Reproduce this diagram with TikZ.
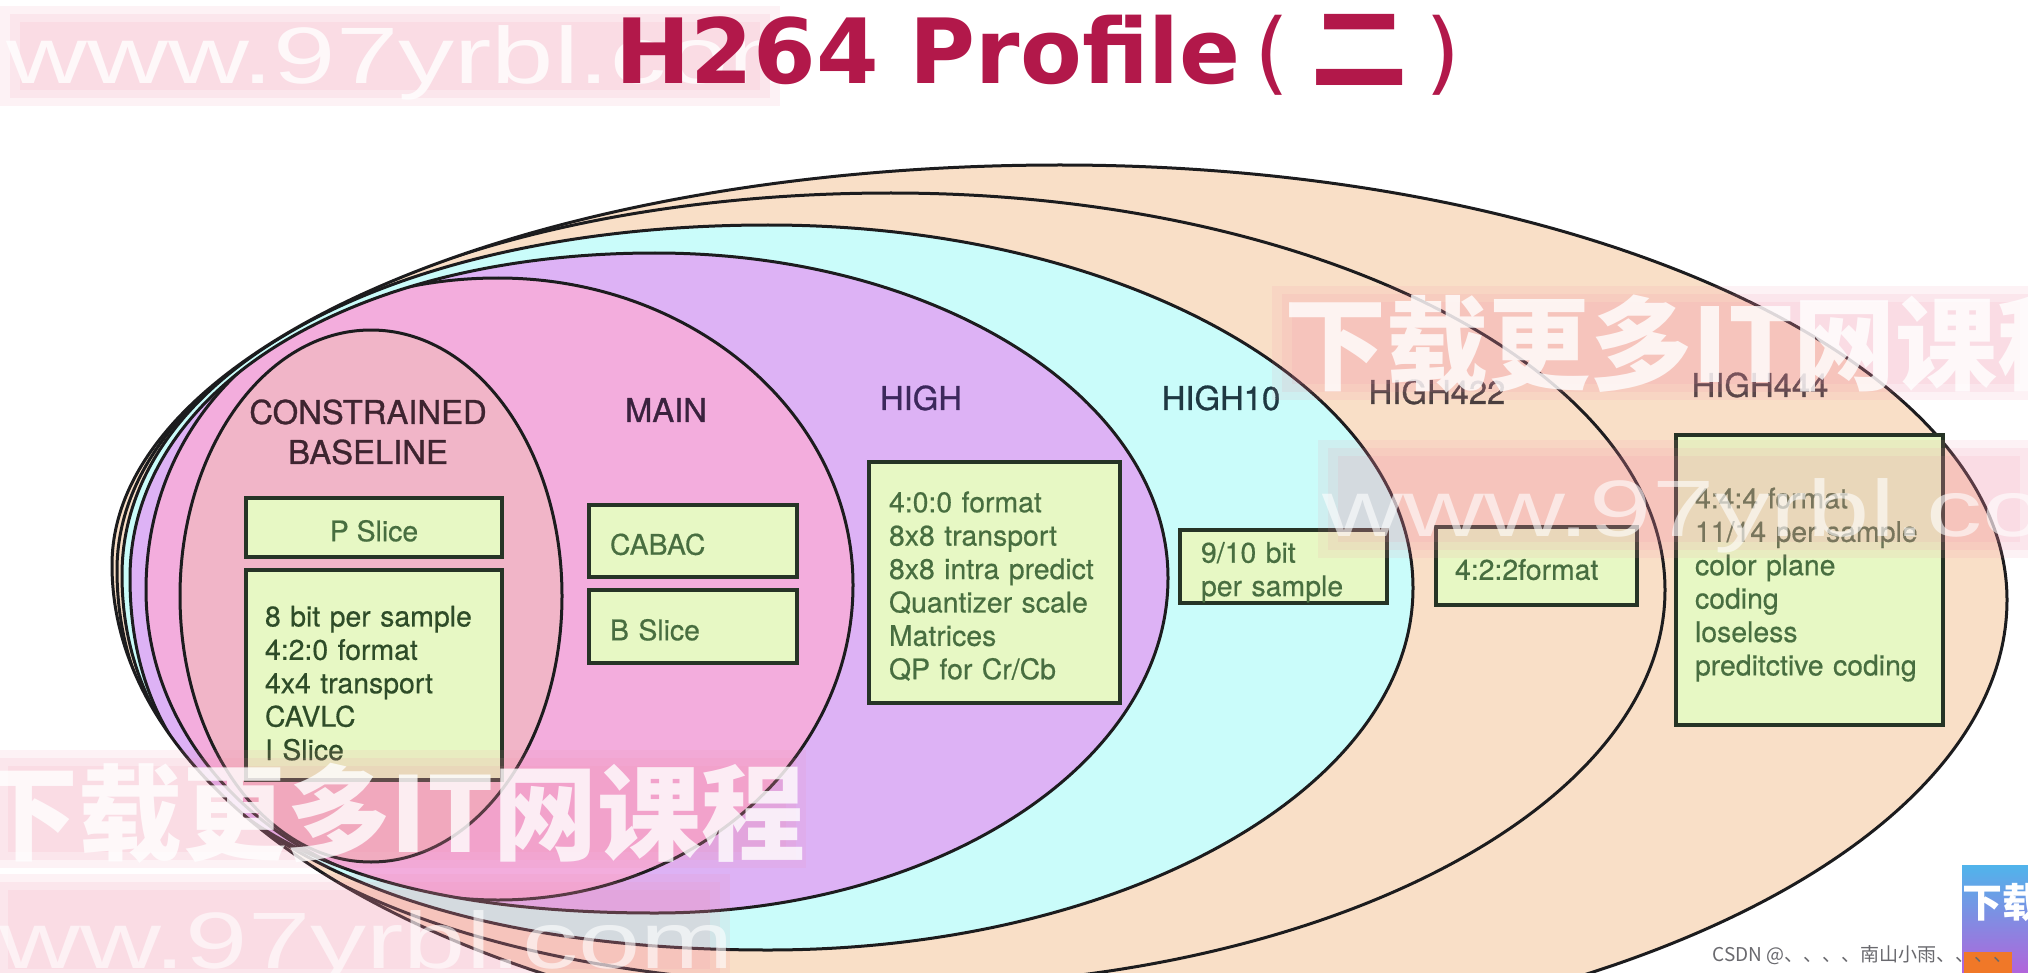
\documentclass[tikz,border=0pt]{standalone}
\usepackage{fontspec}
\setmainfont{TeX Gyre Heros}
\newfontfamily\labfont{TeX Gyre Heros}[FakeBold=0.9]
\newfontfamily\boxfont{TeX Gyre Heros}[FakeBold=0.5]
\newfontfamily\titlefont{DejaVu Sans}
\newfontfamily\cjk{Noto Sans CJK SC}
\newfontfamily\wmfont{Liberation Sans}
\definecolor{peachc}{RGB}{249,223,199}
\definecolor{cyanc}{RGB}{202,252,250}
\definecolor{lavc}{RGB}{221,178,245}
\definecolor{pinkc}{RGB}{243,173,221}
\definecolor{salmonc}{RGB}{241,181,200}
\definecolor{boxfillc}{RGB}{231,248,196}
\definecolor{boxdrawc}{RGB}{38,52,38}
\definecolor{boxtextc}{RGB}{72,110,64}
\definecolor{boxtextd}{RGB}{46,76,40}
\definecolor{linec}{RGB}{28,28,30}
\definecolor{titlec}{RGB}{178,24,74}
\definecolor{wmpink}{RGB}{242,140,165}
\definecolor{labA}{RGB}{62,36,48}
\definecolor{labB}{RGB}{58,34,62}
\definecolor{labC}{RGB}{60,40,92}
\definecolor{labD}{RGB}{30,56,66}
\definecolor{labE}{RGB}{72,62,62}
\definecolor{csdnc}{RGB}{105,105,110}
\definecolor{thumbA}{RGB}{80,180,235}
\definecolor{thumbB}{RGB}{178,100,218}
\definecolor{thumbC}{RGB}{240,120,40}
% closed oval: left point, top, right point, bottom; separate fullness of the two left quarters
% #1 L  #2 y of L  #3 x of top/bottom  #4 T  #5 R  #6 y of R  #7 B  #8 upper-left kappa  #9 lower-left kappa
\newcommand\ovalpath[9]{(#1,#2) .. controls (#1,{#2-#8*(#2-#4)}) and ({#3-#8*(#3-#1)},#4) .. (#3,#4)
  .. controls ({#3+0.5523*(#5-#3)},#4) and (#5,{#6-0.5523*(#6-#4)}) .. (#5,#6)
  .. controls (#5,{#6+0.5523*(#7-#6)}) and ({#3+0.5523*(#5-#3)},#7) .. (#3,#7)
  .. controls ({#3-#9*(#3-#1)},#7) and (#1,{#2+#9*(#7-#2)}) .. (#1,#2) -- cycle}
\newcommand\shA{\ovalpath{112}{565}{1060}{165}{2007}{600}{1050}{0.5523}{0.56}}
\newcommand\shB{\ovalpath{117}{570}{891}{193}{1665}{590}{987}{0.56}{0.62}}
\newcommand\shC{\ovalpath{122}{575}{768}{225}{1413}{588}{950}{0.58}{0.62}}
\newcommand\shD{\ovalpath{130}{578}{655}{253}{1168}{578}{913}{0.58}{0.66}}
\newcommand\shE{\ovalpath{146}{590}{498}{278}{853}{585}{900}{0.58}{0.5523}}
\newcommand\shF{\ovalpath{180}{596}{371}{330}{562}{596}{862}{0.5523}{0.5523}}
\newcommand\softband[4]{%
  \fill[wmpink,opacity=0.11] (#1,#2) rectangle (#3,#4);
  \fill[wmpink,opacity=0.11] ({#1+10},{#2+8}) rectangle ({#3-10},{#4-8});
  \fill[wmpink,opacity=0.11] ({#1+20},{#2+16}) rectangle ({#3-20},{#4-16});}
\begin{document}
\begin{tikzpicture}[x=0.5pt,y=-0.5pt,
  ell/.style={draw=linec,line width=1.5pt},
  box/.style={draw=boxdrawc,line width=1.7pt,fill=boxfillc,text=boxtextc,
    font=\boxfont\fontsize{14.2}{16.7}\selectfont,inner ysep=0pt,align=left,
    execute at begin node={\rule{0pt}{14pt}}},
  lab/.style={font=\labfont\fontsize{16.4}{20}\selectfont,inner sep=0pt,align=center},
  wmtext/.style={text=white,text opacity=0.8,inner sep=0pt}]
\fill[white] (0,0) rectangle (2028,973);
\useasboundingbox (0,0) rectangle (2028,973);
\begin{scope}
\clip (0,0) rectangle (2028,973);
% top-left watermark (under the title)
\softband{0}{6}{780}{106}
\node[wmtext,anchor=base west,font=\wmfont\fontsize{40}{40}\selectfont] (wmA) at (6,84) {\scalebox{1.4}[1]{www.97yrbl.com}};
% nested profile ovals: fills
\fill[peachc] \shA;
\begin{scope}
  \clip \shA;
  \fill[peachc] \shB;
  \begin{scope}
    \clip \shB;
    \fill[cyanc] \shC;
    \begin{scope}
      \clip \shC;
      \fill[lavc] \shD;
      \begin{scope}
        \clip \shD;
        \fill[pinkc] \shE;
        \begin{scope}
          \clip \shE;
          \fill[salmonc] \shF;
        \end{scope}
      \end{scope}
    \end{scope}
  \end{scope}
\end{scope}
% outlines
\draw[ell] \shA;
\begin{scope}
  \clip \shA;
  \draw[ell] \shB;
  \begin{scope}
    \clip \shB;
    \draw[ell] \shC;
    \begin{scope}
      \clip \shC;
      \draw[ell] \shD;
      \begin{scope}
        \clip \shD;
        \draw[ell] \shE;
        \begin{scope}
          \clip \shE;
          \draw[ell] \shF;
        \end{scope}
      \end{scope}
    \end{scope}
  \end{scope}
\end{scope}
% profile labels
\node[lab,text=labA] (lcb) at (368,432) {CONSTRAINED\\BASELINE};
\node[lab,text=labB] (lmain) at (666,410) {MAIN};
\node[lab,text=labC] (lhigh) at (921,398) {HIGH};
\node[lab,text=labD] (lh10) at (1221,398) {HIGH10};
\node[lab,text=labE] (lh422) at (1437,392) {HIGH422};
\node[lab,text=labE] (lh444) at (1760,385) {HIGH444};
% feature boxes
\node[box,align=center,minimum width=128pt,minimum height=29.5pt,inner xsep=0pt] (ps) at (374,527.5) {P Slice};
\node[box,text=boxtextd,minimum width=128pt,minimum height=105pt,inner xsep=9.5pt,text width=109pt] (cb) at (374,675)
  {\rule{0pt}{18.5pt}8 bit per sample\\4:2:0 format\\4x4 transport\\CAVLC\\I Slice};
\node[box,minimum width=104pt,minimum height=36pt,inner xsep=10.5pt,text width=83pt] (cabac) at (693,541) {CABAC};
\node[box,minimum width=104pt,minimum height=36.5pt,inner xsep=10.5pt,text width=83pt] (bs) at (693,626.5) {B Slice};
\node[box,minimum width=125.5pt,minimum height=120.5pt,inner xsep=10pt,text width=105.5pt] (hb) at (994.5,582.5)
  {4:0:0 format\\8x8 transport\\8x8 intra predict\\Quantizer scale\\Matrices\\QP for Cr/Cb};
\node[box,minimum width=103.5pt,minimum height=36.5pt,inner xsep=10.5pt,text width=82.5pt] (h10b) at (1283.5,566.5)
  {\rule{0pt}{16pt}9/10 bit\\per sample};
\node[box,minimum width=100.5pt,minimum height=39pt,inner xsep=9.5pt,text width=81.5pt] (h422b) at (1536.5,566) {4:2:2format};
\node[box,minimum width=133.5pt,minimum height=145pt,inner xsep=9.5pt,text width=114.5pt] (h444b) at (1809.5,580)
  {\rule{0pt}{15pt}4:4:4 format\\11/14 per sample\\color plane\\coding\\loseless\\preditctive coding};
% watermarks over the picture
\softband{1272}{286}{2040}{400}
\node[wmtext,anchor=base west,font=\cjk\bfseries\fontsize{51}{51}\selectfont] (wmB) at (1284,382) {下载更多IT网课程};
\softband{1318}{440}{2040}{558}
\node[wmtext,text opacity=0.6,anchor=base west,font=\wmfont\fontsize{40}{40}\selectfont] (wmC) at (1322,536) {\scalebox{1.4}[1]{www.97yrbl.com}};
\softband{-12}{750}{806}{868}
\node[wmtext,anchor=base east,font=\cjk\bfseries\fontsize{52}{52}\selectfont] (wmD) at (806,852) {下载更多IT网课程};
\softband{-12}{874}{730}{985}
\node[wmtext,text opacity=0.6,anchor=base west,font=\wmfont\fontsize{40}{40}\selectfont] (wmE) at (-82,968) {\scalebox{1.4}[1]{www.97yrbl.com}};
% title
\node[anchor=base west,inner sep=0pt,text=titlec] (title) at (615,84)
  {\fontsize{45}{45}\selectfont\titlefont\bfseries H264 Profile\hspace{7pt}\mdseries(\hspace{11pt}{\cjk\bfseries\fontsize{48}{48}\selectfont 二}\hspace{9pt})};
% corner thumbnail and credit
\shade[top color=thumbA,bottom color=thumbB] (1962,865) rectangle (2028,973);
\fill[thumbC] (1964,952) rectangle (2012,973);
\node[anchor=west,inner sep=0pt,text=white,font=\cjk\bfseries\fontsize{20}{20}\selectfont] (thumb) at (1962,903) {下载};
\node[anchor=west,inner sep=0pt,text=csdnc,font=\cjk\fontsize{9.5}{10}\selectfont] (csdn) at (1712,955) {CSDN @、、、、南山小雨、、、、};
\end{scope}
\end{tikzpicture}
\end{document}
